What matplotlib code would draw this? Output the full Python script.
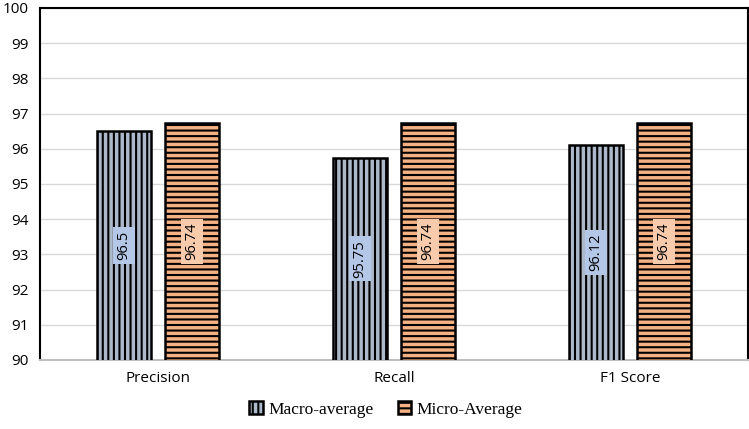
import matplotlib.pyplot as plt
import numpy as np

categories = ["Precision", "Recall", "F1 Score"]
macro = [96.5, 95.75, 96.12]
micro = [96.74, 96.74, 96.74]
series_names = ["Macro-average", "Micro-Average"]

plt.rcParams['hatch.linewidth'] = 1.5

fig = plt.figure(figsize=(7.49, 4.29), dpi=100)
ax = fig.add_axes([40 / 749, 1 - 360 / 429, 708 / 749, 352 / 429])

x = np.arange(len(categories))
w = 0.229
off = (w + 0.059) / 2

b1 = ax.bar(x - off, macro, w, color="#adb9ca", edgecolor="black", linewidth=1.8,
            hatch="|||", label=series_names[0], zorder=3)
b2 = ax.bar(x + off, micro, w, color="#f4b183", edgecolor="black", linewidth=1.8,
            hatch="---", label=series_names[1], zorder=3)

for bars, vals, fc in [(b1, macro, "#b4c7e7"), (b2, micro, "#f8cbad")]:
    for bar, v in zip(bars, vals):
        ax.text(bar.get_x() + bar.get_width() / 2, (90 + v) / 2, f"{v:g}",
                rotation=90, ha="center", va="center", fontsize=10.5,
                family="Open Sans", zorder=4,
                bbox=dict(boxstyle="square,pad=0.25", fc=fc, ec="none"))

ax.set_ylim(90, 100)
ax.set_xlim(-0.5, 2.5)
ax.set_yticks(range(90, 101))
ax.set_xticks(x)
ax.set_xticklabels(categories)
ax.tick_params(length=0, labelsize=11, pad=8)
for lab in ax.get_xticklabels() + ax.get_yticklabels():
    lab.set_family("Open Sans")
ax.yaxis.grid(True, color="#d9d9d9", linewidth=1, zorder=0)

for s in ["left", "top", "right"]:
    ax.spines[s].set_color("black")
    ax.spines[s].set_linewidth(1.5)
ax.spines["bottom"].set_color("#bfbfbf")
ax.spines["bottom"].set_linewidth(1.5)

fig.legend(handles=[b1, b2], loc="lower center", ncol=2, frameon=False,
           bbox_to_anchor=(0.515, -0.01), handlelength=0.8, handleheight=0.8,
           columnspacing=1.4, handletextpad=0.3,
           prop={"family": "Liberation Serif", "size": 12.5})

fig.savefig("out.png", dpi=100)
